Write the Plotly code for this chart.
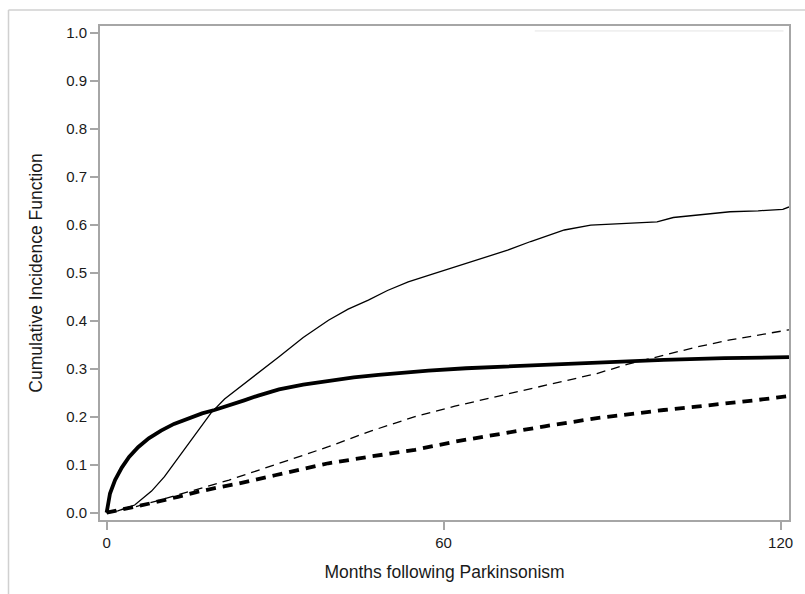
import plotly.graph_objects as go

# Thin solid curve
months_a = [0, 2, 5, 8, 10.3, 13, 15, 18.6, 21, 23.9, 27, 30.7, 35, 39.5, 43, 46.6, 50, 53.7,
            58, 63.2, 67, 71.4, 75.5, 81.5, 86.2, 92, 98, 100.9, 106, 111, 116, 120.4, 121.5]
cif_a = [0, 0.004, 0.016, 0.045, 0.075, 0.118, 0.151, 0.208, 0.237, 0.263, 0.292, 0.325, 0.365,
         0.401, 0.424, 0.443, 0.463, 0.481, 0.497, 0.516, 0.531, 0.547, 0.565, 0.589, 0.599,
         0.603, 0.606, 0.615, 0.621, 0.627, 0.629, 0.632, 0.637]

# Thick solid curve
months_b = [0, 0.3, 0.6, 1.5, 2.7, 4, 5.6, 7.5, 9.7, 12, 14.5, 17, 19.2, 21.8, 24.5, 27, 30.7,
            35, 39.5, 44, 48.4, 53, 57.3, 64, 71.4, 77, 83.2, 90, 99.2, 110, 121.5]
cif_b = [0, 0.022, 0.04, 0.068, 0.094, 0.116, 0.1365, 0.155, 0.171, 0.185, 0.197, 0.207, 0.214,
         0.223, 0.234, 0.244, 0.257, 0.267, 0.275, 0.282, 0.287, 0.292, 0.296, 0.301, 0.305,
         0.308, 0.311, 0.314, 0.3185, 0.322, 0.324]

# Thin dashed curve
months_c = [0, 5, 10, 15, 21.8, 30, 39.5, 47, 54.9, 62, 70.2, 78, 87.3, 93, 99.2, 105, 111, 116, 121.5]
cif_c = [0, 0.012, 0.028, 0.045, 0.068, 0.1, 0.1375, 0.17, 0.2, 0.222, 0.244, 0.266, 0.29, 0.31,
         0.3285, 0.345, 0.36, 0.37, 0.381]

# Thick dashed curve
months_d = [0, 3.8, 8, 12.7, 16, 20.4, 23.6, 30, 39.5, 47, 54.9, 62, 70.2, 78, 87.3, 93, 99.2,
            105, 111, 116, 121.5]
cif_d = [0, 0.009, 0.02, 0.033, 0.043, 0.054, 0.061, 0.078, 0.103, 0.117, 0.131, 0.148, 0.165,
         0.18, 0.197, 0.206, 0.214, 0.221, 0.228, 0.235, 0.243]

x_ticks = [0, 60, 120]
y_ticks = [0.0, 0.1, 0.2, 0.3, 0.4, 0.5, 0.6, 0.7, 0.8, 0.9, 1.0]
y_tick_labels = ["0.0", "0.1", "0.2", "0.3", "0.4", "0.5", "0.6", "0.7", "0.8", "0.9", "1.0"]

FONT = "Liberation Sans, Arial, sans-serif"

fig = go.Figure()
fig.add_trace(go.Scatter(x=months_a, y=cif_a, mode="lines", line=dict(color="black", width=1.3)))
fig.add_trace(go.Scatter(x=months_b, y=cif_b, mode="lines", line=dict(color="black", width=3.8)))
fig.add_trace(go.Scatter(x=months_c, y=cif_c, mode="lines",
                         line=dict(color="black", width=1.3, dash="9px,6px")))
fig.add_trace(go.Scatter(x=months_d, y=cif_d, mode="lines",
                         line=dict(color="black", width=3.8, dash="10px,7px")))

axis_common = dict(showgrid=False, zeroline=False, showline=True, linecolor="#a6a6a6",
                   linewidth=2, mirror=True, ticks="outside", tickcolor="#a6a6a6",
                   ticklen=8, tickwidth=1.5,
                   tickfont=dict(family=FONT, size=15, color="#1a1a1a"))

fig.update_xaxes(range=[-1.18, 121.5], tickvals=x_ticks, ticktext=[str(t) for t in x_ticks],
                 title=dict(text="Months following Parkinsonism", standoff=16,
                            font=dict(family=FONT, size=17.5, color="#1a1a1a")),
                 **axis_common)
fig.update_yaxes(range=[-0.0152, 1.014], tickvals=y_ticks, ticktext=y_tick_labels,
                 title=dict(text="Cumulative Incidence Function", standoff=19,
                            font=dict(family=FONT, size=17.5, color="#1a1a1a")),
                 **axis_common)

# outer frame (left and top edges visible) and faint top-right line
fig.add_shape(type="line", xref="paper", yref="paper", x0=-0.1328, x1=-0.1328, y0=1.0324, y1=-0.2,
              line=dict(color="#d0d0d0", width=1.5))
fig.add_shape(type="line", xref="paper", yref="paper", x0=-0.1328, x1=1.1, y0=1.0324, y1=1.0324,
              line=dict(color="#d0d0d0", width=1.5))
fig.add_shape(type="line", xref="paper", yref="paper", x0=0.631, x1=0.992, y0=0.990, y1=0.990,
              line=dict(color="#e4e4e4", width=1))

fig.update_layout(width=805, height=594, showlegend=False,
                  paper_bgcolor="white", plot_bgcolor="white",
                  margin=dict(l=100, r=12, t=26, b=74))

fig.write_html("out.html", config={"displayModeBar": False},
               post_script="document.body.style.margin='0';")
